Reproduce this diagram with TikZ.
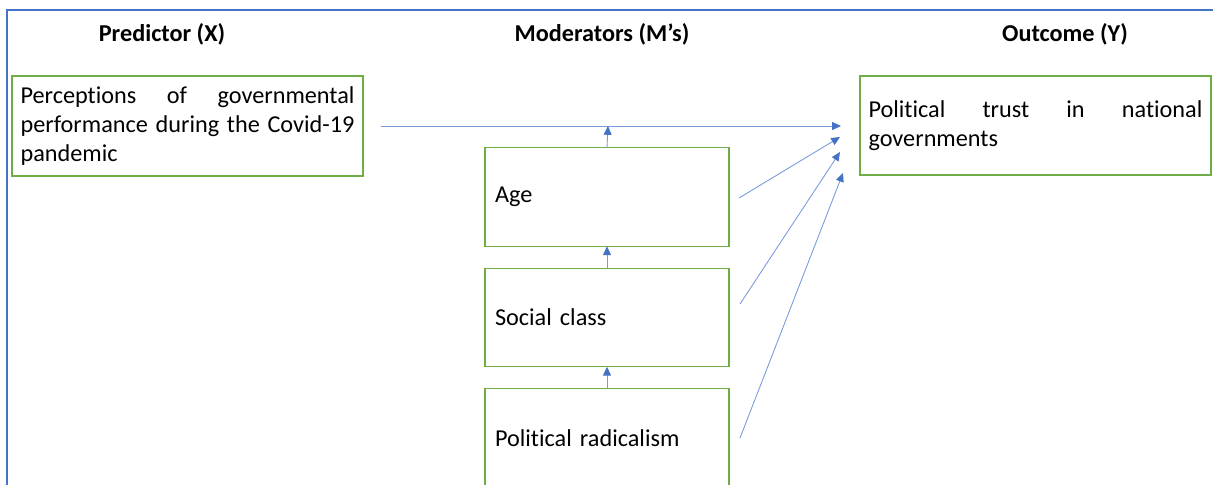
\documentclass[tikz,border=0pt]{standalone}
\usepackage{fontspec}
\setmainfont{Carlito}[Ligatures=NoCommon]
\usepackage{xcolor}
\usepackage{tikz}
\usetikzlibrary{positioning,arrows.meta}

\definecolor{framecol}{RGB}{68,114,196}
\definecolor{boxcol}{RGB}{112,173,71}
\definecolor{linkcol}{RGB}{120,155,220}
\definecolor{tipcol}{RGB}{68,114,196}

\tikzset{
  varbox/.style={draw=boxcol, line width=0.7pt, inner sep=0pt, outer sep=0pt,
    font=\fontsize{13.8}{16.5}\selectfont},
  headlbl/.style={font=\fontsize{13.8}{16}\selectfont\bfseries},
  link/.style={draw=linkcol, line width=0.5pt,
    -{Triangle[length=5pt,width=4.5pt,fill=tipcol,color=tipcol]}},
}

\begin{document}
\begin{tikzpicture}[x=0.02cm,y=-0.02cm]
\def\modW{4.88cm}
\def\modH{1.97cm}
\clip (0,0) rectangle (1213,484);
\useasboundingbox (0,0) rectangle (1213,484);
% outer frame
\draw[framecol, line width=1.4pt] (7,490) -- (7,10) -- (1220,10);

% column heads
\node[headlbl] (hx) at (162,34) {Predictor (X)};
\node[headlbl] (hm) at (602,34) {Moderators (M’s)};
\node[headlbl] (hy) at (1065,34) {Outcome (Y)};

% predictor and outcome
\node[varbox, minimum width=7.02cm, minimum height=2cm,
  text width=6.68cm, align=justify] (pred) at (187.5,126)
  {Perceptions of governmental\linebreak performance during the Covid-19\linebreak pandemic};
\node[varbox, minimum width=7.02cm, minimum height=1.98cm,
  text width=6.68cm, align=justify] (outc) at (1035.5,125.5)
  {Political trust in national\linebreak governments};

% moderators
\node[varbox, minimum width=\modW, minimum height=\modH,
  text width=4.48cm, align=left] (age) at (607,197) {Age};
\node[varbox, minimum width=\modW, minimum height=\modH,
  text width=4.48cm, align=left, below=0.44cm of age] (cls) {Social class};
\node[varbox, minimum width=\modW, minimum height=\modH,
  text width=4.48cm, align=left, below=0.44cm of cls] (rad) {Political radicalism};

% free ends of the links
\coordinate (xstart) at (381,126);
\coordinate (yin) at (841,126);
\coordinate (agein) at (608,126);
\coordinate (ageout) at (739,198);
\coordinate (clsout) at (740,304);
\coordinate (radout) at (740,438);
\coordinate (yage) at (840,137);
\coordinate (ycls) at (840,152);
\coordinate (yrad) at (843,173);

\draw[link] (xstart) -- (yin);
\draw[link] (age.north) -- (agein);
\draw[link] (cls.north) -- (age.south);
\draw[link] (rad.north) -- (cls.south);
\draw[link] (ageout) -- (yage);
\draw[link] (clsout) -- (ycls);
\draw[link] (radout) -- (yrad);
\end{tikzpicture}
\end{document}
